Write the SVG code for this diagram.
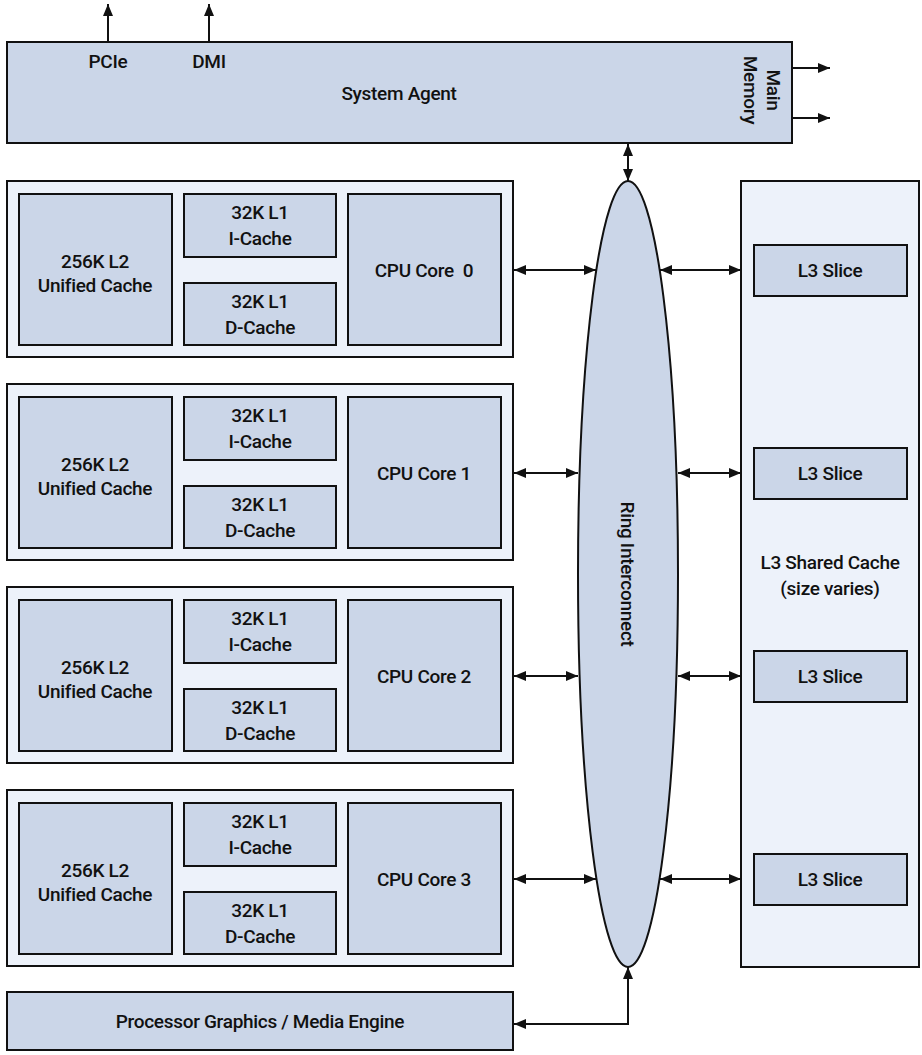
<svg xmlns="http://www.w3.org/2000/svg" width="922" height="1055" viewBox="0 0 922 1055">
<style>
.dk{fill:#cbd6e8;stroke:#111;stroke-width:2}
.lt{fill:#edf2fa;stroke:#111;stroke-width:2}
.t{font-family:Roboto,"Liberation Sans",Arial,sans-serif;font-weight:500;font-size:19px;fill:#111;text-anchor:middle;letter-spacing:-0.3px}
.c{fill:none;stroke:#111;stroke-width:2}
</style>
<defs>
<marker id="ah" viewBox="0 0 12 10" refX="12" refY="5" markerWidth="12" markerHeight="10" markerUnits="userSpaceOnUse" orient="auto-start-reverse">
<path d="M0,0 L12,5 L0,10 z" fill="#111"/>
</marker>
</defs>
<rect width="922" height="1055" fill="#fff"/>

<g id="system-agent">
<rect class="dk" x="7" y="42" width="785" height="101"/>
<text class="t" x="108" y="68">PCIe</text>
<text class="t" x="209" y="68">DMI</text>
<text class="t" x="399" y="100">System Agent</text>
<text class="t" transform="translate(767,90) rotate(90)">Main</text>
<text class="t" transform="translate(744,90) rotate(90)">Memory</text>
</g>

<g id="core0">
<rect class="lt" x="7" y="181" width="506" height="176"/>
<rect class="dk" x="19" y="194" width="153" height="151"/>
<rect class="dk" x="184" y="194" width="152" height="63"/>
<rect class="dk" x="184" y="283" width="152" height="62"/>
<rect class="dk" x="348" y="194" width="153" height="151"/>
<text class="t" x="95" y="268">256K L2</text>
<text class="t" x="95" y="292">Unified Cache</text>
<text class="t" x="260" y="219">32K L1</text>
<text class="t" x="260" y="245">I-Cache</text>
<text class="t" x="260" y="308">32K L1</text>
<text class="t" x="260" y="334">D-Cache</text>
<text class="t" x="424" y="277" xml:space="preserve">CPU Core  0</text>
</g>

<g id="core1">
<rect class="lt" x="7" y="384" width="506" height="176"/>
<rect class="dk" x="19" y="397" width="153" height="151"/>
<rect class="dk" x="184" y="397" width="152" height="63"/>
<rect class="dk" x="184" y="486" width="152" height="62"/>
<rect class="dk" x="348" y="397" width="153" height="151"/>
<text class="t" x="95" y="471">256K L2</text>
<text class="t" x="95" y="495">Unified Cache</text>
<text class="t" x="260" y="422">32K L1</text>
<text class="t" x="260" y="448">I-Cache</text>
<text class="t" x="260" y="511">32K L1</text>
<text class="t" x="260" y="537">D-Cache</text>
<text class="t" x="424" y="480">CPU Core 1</text>
</g>

<g id="core2">
<rect class="lt" x="7" y="587" width="506" height="176"/>
<rect class="dk" x="19" y="600" width="153" height="151"/>
<rect class="dk" x="184" y="600" width="152" height="63"/>
<rect class="dk" x="184" y="689" width="152" height="62"/>
<rect class="dk" x="348" y="600" width="153" height="151"/>
<text class="t" x="95" y="674">256K L2</text>
<text class="t" x="95" y="698">Unified Cache</text>
<text class="t" x="260" y="625">32K L1</text>
<text class="t" x="260" y="651">I-Cache</text>
<text class="t" x="260" y="714">32K L1</text>
<text class="t" x="260" y="740">D-Cache</text>
<text class="t" x="424" y="683">CPU Core 2</text>
</g>

<g id="core3">
<rect class="lt" x="7" y="790" width="506" height="176"/>
<rect class="dk" x="19" y="803" width="153" height="151"/>
<rect class="dk" x="184" y="803" width="152" height="63"/>
<rect class="dk" x="184" y="892" width="152" height="62"/>
<rect class="dk" x="348" y="803" width="153" height="151"/>
<text class="t" x="95" y="877">256K L2</text>
<text class="t" x="95" y="901">Unified Cache</text>
<text class="t" x="260" y="828">32K L1</text>
<text class="t" x="260" y="854">I-Cache</text>
<text class="t" x="260" y="917">32K L1</text>
<text class="t" x="260" y="943">D-Cache</text>
<text class="t" x="424" y="886">CPU Core 3</text>
</g>

<g id="ring">
<ellipse class="dk" cx="628" cy="574" rx="50" ry="393"/>
<text class="t" transform="translate(621,574) rotate(90)">Ring Interconnect</text>
</g>

<g id="l3">
<rect class="lt" x="741" y="181" width="178" height="786"/>
<rect class="dk" x="754" y="245" width="153" height="51"/>
<rect class="dk" x="754" y="448" width="153" height="51"/>
<rect class="dk" x="754" y="651" width="153" height="51"/>
<rect class="dk" x="754" y="854" width="153" height="51"/>
<text class="t" x="830" y="277">L3 Slice</text>
<text class="t" x="830" y="480">L3 Slice</text>
<text class="t" x="830" y="683">L3 Slice</text>
<text class="t" x="830" y="886">L3 Slice</text>
<text class="t" x="830" y="569">L3 Shared Cache</text>
<text class="t" x="830" y="595">(size varies)</text>
</g>

<g id="graphics">
<rect class="dk" x="7" y="992" width="506" height="58"/>
<text class="t" x="260" y="1028">Processor Graphics / Media Engine</text>
</g>

<g id="connectors">
<line class="c" x1="108" y1="42" x2="108" y2="4" marker-end="url(#ah)"/>
<line class="c" x1="209" y1="42" x2="209" y2="4" marker-end="url(#ah)"/>
<line class="c" x1="792" y1="68" x2="830" y2="68" marker-end="url(#ah)"/>
<line class="c" x1="792" y1="118" x2="830" y2="118" marker-end="url(#ah)"/>
<line class="c" x1="628" y1="144" x2="628" y2="181" marker-start="url(#ah)" marker-end="url(#ah)"/>
<line class="c" x1="514" y1="270" x2="596" y2="270" marker-start="url(#ah)" marker-end="url(#ah)"/>
<line class="c" x1="660" y1="270" x2="741" y2="270" marker-start="url(#ah)" marker-end="url(#ah)"/>
<line class="c" x1="514" y1="473" x2="578" y2="473" marker-start="url(#ah)" marker-end="url(#ah)"/>
<line class="c" x1="678" y1="473" x2="741" y2="473" marker-start="url(#ah)" marker-end="url(#ah)"/>
<line class="c" x1="514" y1="676" x2="578" y2="676" marker-start="url(#ah)" marker-end="url(#ah)"/>
<line class="c" x1="678" y1="676" x2="741" y2="676" marker-start="url(#ah)" marker-end="url(#ah)"/>
<line class="c" x1="514" y1="879" x2="596" y2="879" marker-start="url(#ah)" marker-end="url(#ah)"/>
<line class="c" x1="660" y1="879" x2="741" y2="879" marker-start="url(#ah)" marker-end="url(#ah)"/>
<polyline class="c" points="628,967 628,1024 514,1024" marker-start="url(#ah)" marker-end="url(#ah)"/>
</g>
</svg>
